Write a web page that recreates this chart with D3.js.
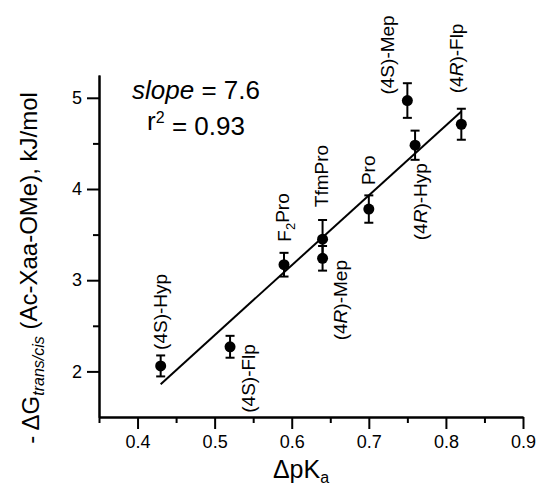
<!DOCTYPE html>
<html>
<head>
<meta charset="utf-8">
<script src="https://cdn.jsdelivr.net/npm/d3@7/dist/d3.min.js"></script>
<style>
  html, body { margin: 0; padding: 0; background: #fff; }
  svg { display: block; font-family: "Liberation Sans", Arial, Helvetica, sans-serif; }
</style>
</head>
<body>
<svg id="chart" width="537" height="494"></svg>
<script>
// ---- data ----
const names = ["(4S)-Hyp", "(4S)-Flp", "F2Pro", "TfmPro", "(4R)-Mep", "Pro", "(4R)-Hyp", "(4S)-Mep", "(4R)-Flp"];
const dpKa  = [0.43, 0.52, 0.59, 0.64, 0.64, 0.70, 0.76, 0.75, 0.82];
const dG    = [2.06, 2.27, 3.17, 3.45, 3.24, 3.78, 4.48, 4.97, 4.71];
const errs  = [0.115, 0.12, 0.13, 0.21, 0.135, 0.15, 0.16, 0.19, 0.17];
const fitX  = [0.43, 0.82];
const fitY  = [1.86, 4.85];
const xTicks = [0.4, 0.5, 0.6, 0.7, 0.8, 0.9];
const xMinor = [0.35, 0.45, 0.55, 0.65, 0.75, 0.85];
const yTicks = [2, 3, 4, 5];
const yMinor = [2.5, 3.5, 4.5];
const slopeText = "7.6";
const r2Text = "0.93";

// label offsets (pixels, relative to point) — layout only
const labelOffsets = [
  [0, -16], [18, 66], [0, -23], [-1, -32], [18, 82], [0, -24], [5, 95], [-20, -6], [-5, -31]
];

const svg = d3.select("#chart");
const x = d3.scaleLinear().domain([0.35, 0.9]).range([99, 523]);
const y = d3.scaleLinear().domain([1.5, 5.25]).range([417, 75]);

// axes
const xAxis = d3.axisBottom(x).tickValues(xTicks).tickSize(12).tickPadding(6).tickSizeOuter(0)
  .tickFormat(d3.format(".1f"));
const gx = svg.append("g").attr("transform", "translate(0,417)").call(xAxis);
const gxm = svg.append("g").attr("transform", "translate(0,417)")
  .call(d3.axisBottom(x).tickValues(xMinor).tickSize(6).tickFormat("").tickSizeOuter(0));
const yAxis = d3.axisLeft(y).tickValues(yTicks).tickSize(12).tickPadding(5).tickSizeOuter(0)
  .tickFormat(d3.format("d"));
const gy = svg.append("g").attr("transform", "translate(99,0)").call(yAxis);
const gym = svg.append("g").attr("transform", "translate(99,0)")
  .call(d3.axisLeft(y).tickValues(yMinor).tickSize(6).tickFormat("").tickSizeOuter(0));

[gx, gxm, gy, gym].forEach(g => {
  g.selectAll(".domain").attr("stroke", "#000").attr("stroke-width", 2);
  g.selectAll(".tick line").attr("stroke", "#000").attr("stroke-width", 2);
  g.selectAll(".tick text").attr("fill", "#000").style("font-size", "18px")
    .style("font-family", "'Liberation Sans', Arial, sans-serif");
});
gx.selectAll(".tick text").attr("dy", "0.71em");

// fit line
svg.append("line")
  .attr("x1", x(fitX[0])).attr("y1", y(fitY[0]))
  .attr("x2", x(fitX[1])).attr("y2", y(fitY[1]))
  .attr("stroke", "#000").attr("stroke-width", 2);

const data = names.map((n, i) => ({ n, x: dpKa[i], y: dG[i], e: errs[i], off: labelOffsets[i] }));

// error bars
const eb = svg.append("g").attr("stroke", "#000").attr("stroke-width", 2);
data.forEach(d => {
  const cx = x(d.x);
  eb.append("line").attr("x1", cx).attr("x2", cx).attr("y1", y(d.y - d.e)).attr("y2", y(d.y + d.e));
  eb.append("line").attr("x1", cx - 4.5).attr("x2", cx + 4.5).attr("y1", y(d.y + d.e)).attr("y2", y(d.y + d.e));
  eb.append("line").attr("x1", cx - 4.5).attr("x2", cx + 4.5).attr("y1", y(d.y - d.e)).attr("y2", y(d.y - d.e));
});

// points
svg.append("g").selectAll("circle").data(data).join("circle")
  .attr("cx", d => x(d.x)).attr("cy", d => y(d.y)).attr("r", 5.5).attr("fill", "#000");

// labels
function addRich(textSel, name) {
  const m = name.match(/^\((4)([RS])\)(.*)$/);
  if (m) {
    textSel.append("tspan").text("(4");
    textSel.append("tspan").text(m[2]).style("font-style", m[2] === "R" ? "italic" : "normal");
    textSel.append("tspan").text(")" + m[3]);
  } else if (name === "F2Pro") {
    textSel.append("tspan").text("F");
    textSel.append("tspan").text("2").attr("dy", "0.3em").style("font-size", "13px");
    textSel.append("tspan").text("Pro").attr("dy", "-0.3em");
  } else {
    textSel.append("tspan").text(name);
  }
}
data.forEach(d => {
  const px = x(d.x) + d.off[0], py = y(d.y) + d.off[1];
  const t = svg.append("text")
    .attr("transform", `translate(${px},${py}) rotate(-90)`)
    .attr("dy", "0.35em")
    .attr("text-anchor", "start")
    .style("font-size", "19px").attr("fill", "#000");
  addRich(t, d.n);
});

// slope annotation
const st = svg.append("text").attr("x", 196).attr("y", 99).attr("text-anchor", "middle")
  .style("font-size", "26px");
st.append("tspan").text("slope").style("font-style", "italic");
st.append("tspan").text(" = " + slopeText);
const rt = svg.append("text").attr("x", 196).attr("y", 130).attr("text-anchor", "middle")
  .style("font-size", "26px");
rt.append("tspan").text("r");
rt.append("tspan").text("2").attr("dy", "-0.45em").style("font-size", "16px");
rt.append("tspan").text(" = " + r2Text).attr("dy", "0.45em");

// x axis title
const xt = svg.append("text").attr("x", 301).attr("y", 478).attr("text-anchor", "middle")
  .style("font-size", "25px");
xt.append("tspan").text("ΔpK");
xt.append("tspan").text("a").attr("dy", "0.3em").style("font-size", "16px");

// y axis title
const yt = svg.append("text").attr("transform", "translate(31,268) rotate(-90)")
  .attr("dy", "0.35em").attr("text-anchor", "middle").style("font-size", "24px");
yt.append("tspan").text("- ΔG");
yt.append("tspan").text("trans/cis").attr("dy", "0.3em").style("font-size", "16px").style("font-style", "italic");
yt.append("tspan").text(" (Ac-Xaa-OMe), kJ/mol").attr("dy", "-0.3em");
</script>
</body>
</html>
